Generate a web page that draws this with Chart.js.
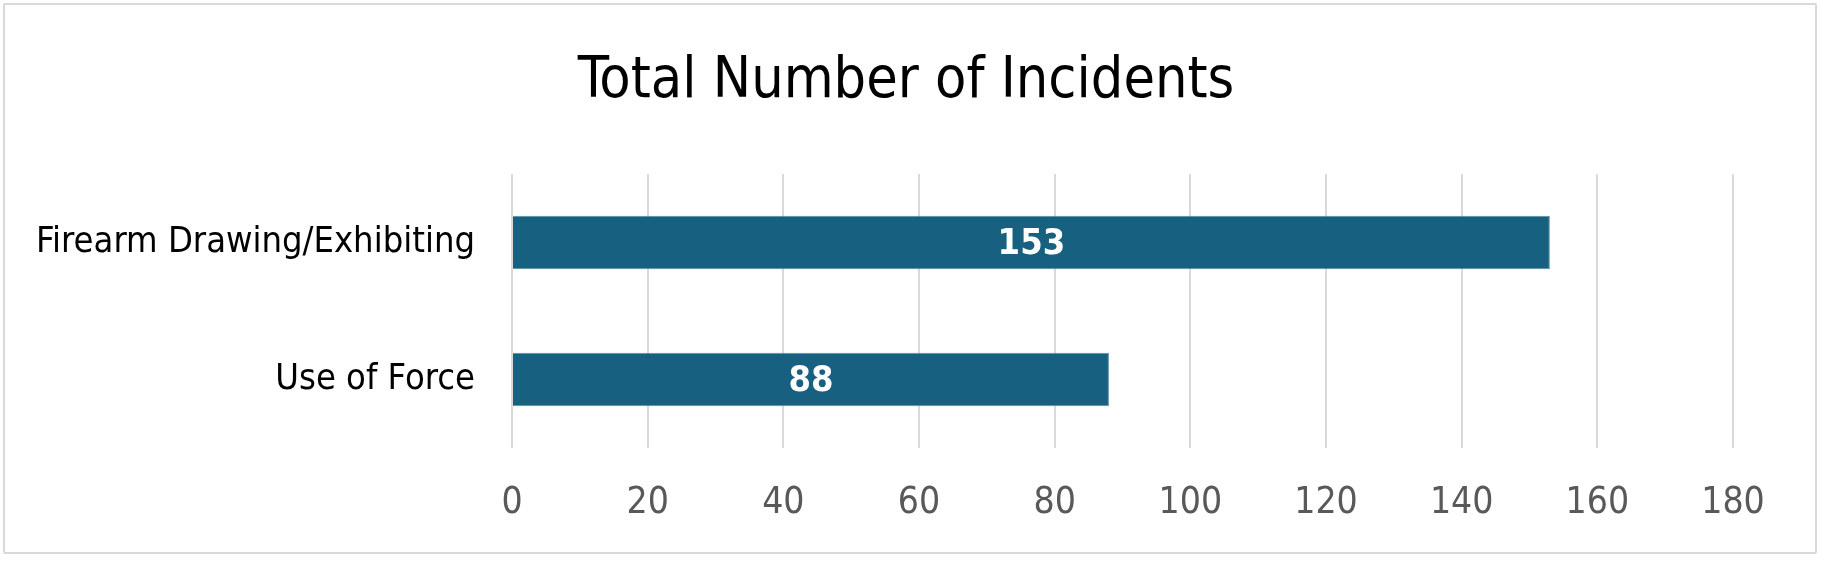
<!DOCTYPE html>
<html>
<head>
<meta charset="utf-8">
<script src="https://cdn.jsdelivr.net/npm/chart.js@4"></script>
<style>
  html, body { margin: 0; padding: 0; background: #fff; }
  #wrap { position: relative; width: 1824px; height: 563px; }
  #frame {
    position: absolute; left: 3px; top: 3px; width: 1810px; height: 547px;
    border: 2px solid #d9d9d9; border-radius: 2px;
  }
  canvas { position: absolute; left: 0; top: 0; }
</style>
</head>
<body>
<div id="wrap">
  <div id="frame"></div>
  <canvas id="chart" width="1824" height="563"></canvas>
</div>
<script>
// データ
const chartTitle = 'Total Number of Incidents';
const categories = ['Firearm Drawing/Exhibiting', 'Use of Force'];
const incidents = [153, 88];
const xTicks = [0, 20, 40, 60, 80, 100, 120, 140, 160, 180];

const FONT = "'Liberation Sans Narrow', 'Arial Narrow', 'DejaVu Sans Condensed', sans-serif";
const BAR_COLOR = '#17607f';

// タイトル（キャンバス全体の中央に配置）
const centeredTitle = {
    id: 'centeredTitle',
    afterDraw(chart) {
        const ctx = chart.ctx;
        ctx.save();
        ctx.fillStyle = '#000000';
        ctx.font = '57px ' + FONT;
        ctx.textAlign = 'center';
        ctx.textBaseline = 'middle';
        ctx.fillText(chartTitle, 906, 82);
        ctx.restore();
    }
};

// バー中央に値を表示
const barValueLabels = {
    id: 'barValueLabels',
    afterDatasetsDraw(chart) {
        const ctx = chart.ctx;
        const meta = chart.getDatasetMeta(0);
        ctx.save();
        ctx.fillStyle = '#ffffff';
        ctx.font = 'bold 36px ' + FONT;
        ctx.textAlign = 'center';
        ctx.textBaseline = 'middle';
        meta.data.forEach((bar, i) => {
            const cx = (bar.x + bar.base) / 2;
            ctx.fillText(String(incidents[i]), cx, bar.y + 2);
        });
        ctx.restore();
    }
};

new Chart(document.getElementById('chart'), {
    type: 'bar',
    data: {
        labels: categories,
        datasets: [{
            data: incidents,
            backgroundColor: BAR_COLOR,
            borderColor: '#5c8ea6',
            borderWidth: 1,
            barPercentage: 0.39,
            categoryPercentage: 1
        }]
    },
    options: {
        indexAxis: 'y',
        responsive: false,
        animation: false,
        layout: { padding: { left: 0, right: 91, top: 174, bottom: 0 } },
        plugins: {
            legend: { display: false },
            tooltip: { enabled: false },
            title: { display: false }
        },
        scales: {
            x: {
                min: 0,
                max: 180,
                afterBuildTicks(scale) {
                    scale.ticks = xTicks.map(v => ({ value: v }));
                },
                afterFit(scale) { scale.height = 115; },
                grid: { color: '#d9d9d9', lineWidth: 2, drawTicks: false },
                border: { display: false },
                ticks: {
                    color: '#595959',
                    font: { family: FONT, size: 37 },
                    padding: 33,
                    maxRotation: 0
                }
            },
            y: {
                afterFit(scale) { scale.width = 512; },
                grid: { display: false },
                border: { display: false },
                ticks: {
                    color: '#000000',
                    font: { family: FONT, size: 36 },
                    padding: 29
                }
            }
        }
    },
    plugins: [barValueLabels, centeredTitle]
});
</script>
</body>
</html>
